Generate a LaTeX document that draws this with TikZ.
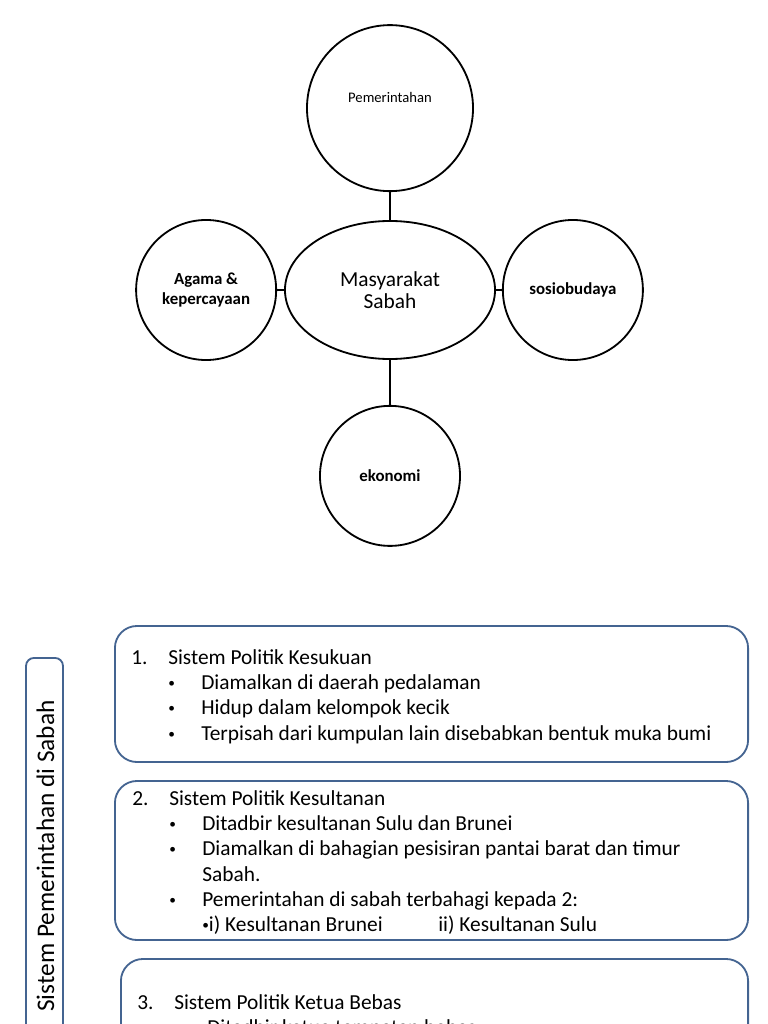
\documentclass[tikz,border=0pt]{standalone}
\usepackage{fontspec}
\setmainfont{Carlito}
\usepackage{tikz}
\usetikzlibrary{positioning,shapes.geometric}
\definecolor{panelblue}{RGB}{68,100,145}
\tikzstyle{bubble} = [circle, minimum size=3.5cm, inner sep=0pt, draw=black, line width=1.3pt, text centered, align=center, font=\bfseries\fontsize{12}{14}\selectfont]
\tikzstyle{hub} = [ellipse, minimum width=5.25cm, minimum height=3.45cm, inner sep=0pt, draw=black, line width=1.3pt, align=center, font=\fontsize{15.2}{15.2}\selectfont]
\tikzstyle{link} = [line width=1.3pt]
\tikzstyle{panel} = [rectangle, rounded corners=0.55cm, draw=panelblue, line width=1.3pt, minimum width=15.825cm]
\tikzstyle{sidebar} = [rectangle, rounded corners=0.2cm, draw=panelblue, line width=1.3pt, minimum width=0.925cm]
\tikzstyle{paneltext} = [anchor=north west, inner sep=0pt, align=left, font=\fontsize{15.2}{18}\selectfont]
\newcommand{\dotmark}{\raisebox{0.2ex}{\fontsize{9.5}{9.5}\selectfont\textbullet}}
\newcommand{\numline}[2]{\makebox[0.925cm][l]{#1}#2}
\newcommand{\bulline}[1]{\hspace*{0.925cm}\makebox[0.825cm][l]{\dotmark}#1}

\begin{document}
\begin{tikzpicture}[x=0.025cm, y=-0.025cm]
\useasboundingbox (0,0) rectangle (768,1024);
\clip (0,0) rectangle (768,1024);

% mind map
\node (masy) [hub] at (390,290) {Masyarakat\\Sabah};
\node (pem) [bubble, minimum size=4.15cm, above=0.7cm of masy, font=\fontsize{10.4}{12}\selectfont] {\raisebox{0.15cm}[0pt][0pt]{Pemerintahan}};
\node (agama) [bubble, left=0.175cm of masy] {Agama \&\\kepercayaan};
\node (sosio) [bubble, right=0.15cm of masy] {sosiobudaya};
\node (eko) [bubble, below=1.125cm of masy] {ekonomi};
\draw [link] (pem) -- (masy);
\draw [link] (agama) -- (masy);
\draw [link] (sosio) -- (masy);
\draw [link] (eko) -- (masy);

% sistem pemerintahan
\node (side) [sidebar, minimum height=12.55cm] at (44.5,909) {};
\node (sidetitle) [rotate=90, font=\fontsize{18}{20}\selectfont] at (45.5,856) {Sistem Pemerintahan di Sabah};

\node (box1) [panel, minimum height=3.4cm] at (431.5,694) {};
\node (txt1) [paneltext] at (131,649) {\numline{1.}{Sistem Politik Kesukuan}\\
\bulline{Diamalkan di daerah pedalaman}\\
\bulline{Hidup dalam kelompok kecik}\\
\bulline{Terpisah dari kumpulan lain disebabkan bentuk muka bumi}};

\node (box2) [panel, minimum height=3.975cm] at (431.5,860.5) {};
\node (txt2) [paneltext] at (132,790) {\numline{2.}{Sistem Politik Kesultanan}\\
\bulline{Ditadbir kesultanan Sulu dan Brunei}\\
\bulline{Diamalkan di bahagian pesisiran pantai barat dan timur}\\
\hspace*{1.75cm}Sabah.\\
\bulline{Pemerintahan di sabah terbahagi kepada 2:}\\
\hspace*{1.75cm}\makebox[5.9cm][l]{\dotmark i) Kesultanan Brunei}ii) Kesultanan Sulu};

\node (box3) [panel, minimum width=15.675cm, minimum height=5.025cm] at (434.5,1059.5) {};
\node (txt3) [paneltext] at (137,994) {\numline{3.}{Sistem Politik Ketua Bebas}\\
\bulline{Ditadbir ketua tempatan bebas}};
\end{tikzpicture}
\end{document}
